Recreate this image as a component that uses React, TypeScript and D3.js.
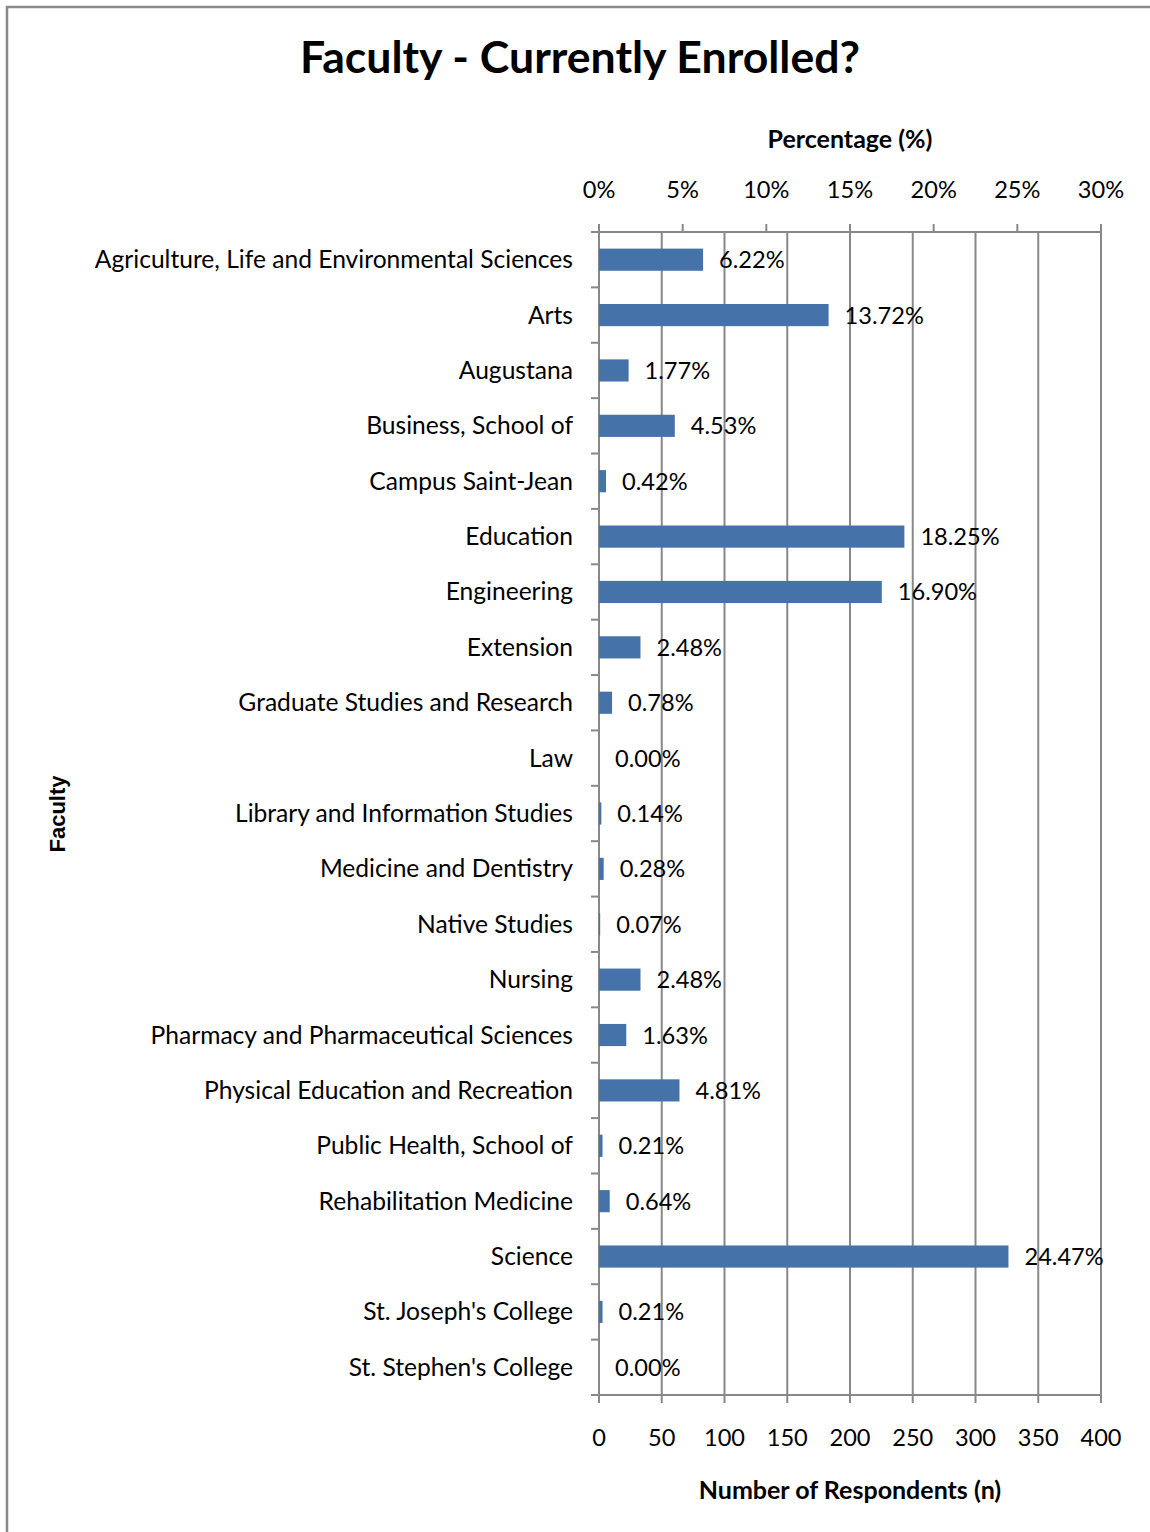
import React from "react";
import * as d3 from "d3";

const categories = [
  "Agriculture, Life and Environmental Sciences",
  "Arts",
  "Augustana",
  "Business, School of",
  "Campus Saint-Jean",
  "Education",
  "Engineering",
  "Extension",
  "Graduate Studies and Research",
  "Law",
  "Library and Information Studies",
  "Medicine and Dentistry",
  "Native Studies",
  "Nursing",
  "Pharmacy and Pharmaceutical Sciences",
  "Physical Education and Recreation",
  "Public Health, School of",
  "Rehabilitation Medicine",
  "Science",
  "St. Joseph's College",
  "St. Stephen's College",
];
const percentages = [
  6.22, 13.72, 1.77, 4.53, 0.42, 18.25, 16.9, 2.48, 0.78, 0.0, 0.14, 0.28, 0.07,
  2.48, 1.63, 4.81, 0.21, 0.64, 24.47, 0.21, 0.0,
];
const pctTicks = [0, 5, 10, 15, 20, 25, 30];
const countTicks = [0, 50, 100, 150, 200, 250, 300, 350, 400];

const W = 1150;
const H = 1532;
const FONT = "Lato, 'Open Sans', sans-serif";

export default function App() {
  const left = 599;
  const right = 1101;
  const top = 232;
  const bottom = 1395;
  const xPct = d3.scaleLinear().domain([0, 30]).range([left, right]);
  const xCnt = d3.scaleLinear().domain([0, 400]).range([left, right]);
  const y = d3
    .scaleBand<string>()
    .domain(categories)
    .range([top, bottom])
    .paddingInner(0.6)
    .paddingOuter(0.3);
  const band = (bottom - top) / categories.length;
  const axisColor = "#888888";

  return (
    <svg
      width={W}
      height={H}
      style={{ position: "absolute", left: 0, top: 0, background: "#fff" }}
    >
      <rect x={7} y={7} width={W + 10} height={H + 10} fill="#fff" stroke="#8a8a8a" strokeWidth={2.5} />
      <text x={580} y={73} textAnchor="middle" fontFamily={FONT} fontWeight="bold" fontSize={44.6} fill="#000">
        Faculty - Currently Enrolled?
      </text>
      <text x={850} y={148} textAnchor="middle" fontFamily={FONT} fontWeight="bold" fontSize={25}>
        Percentage (%)
      </text>
      <text x={850} y={1499} textAnchor="middle" fontFamily={FONT} fontWeight="bold" fontSize={25}>
        Number of Respondents (n)
      </text>
      <text
        transform="translate(65,814) rotate(-90)"
        textAnchor="middle"
        fontFamily="'Liberation Sans', Arial, sans-serif"
        fontWeight="bold"
        fontSize={22}
      >
        Faculty
      </text>

      {/* gridlines at count ticks */}
      {countTicks.slice(1).map((t) => (
        <line key={"g" + t} x1={xCnt(t)} x2={xCnt(t)} y1={top} y2={bottom} stroke={axisColor} strokeWidth={2} />
      ))}

      {/* top axis */}
      <line x1={left - 8} x2={right} y1={top} y2={top} stroke={axisColor} strokeWidth={2} />
      {pctTicks.map((t) => (
        <g key={"p" + t}>
          <line x1={xPct(t)} x2={xPct(t)} y1={top - 8} y2={top} stroke={axisColor} strokeWidth={2} />
          <text x={xPct(t)} y={198} textAnchor="middle" fontFamily={FONT} fontSize={23.6}>
            {t}%
          </text>
        </g>
      ))}

      {/* bottom axis */}
      <line x1={left - 8} x2={right} y1={bottom} y2={bottom} stroke={axisColor} strokeWidth={2} />
      {countTicks.map((t) => (
        <g key={"c" + t}>
          <line x1={xCnt(t)} x2={xCnt(t)} y1={bottom} y2={bottom + 8} stroke={axisColor} strokeWidth={2} />
          <text x={xCnt(t)} y={1446} textAnchor="middle" fontFamily={FONT} fontSize={23.6}>
            {t}
          </text>
        </g>
      ))}

      {/* left axis */}
      <line x1={left} x2={left} y1={top} y2={bottom + 8} stroke={axisColor} strokeWidth={2} />
      {d3.range(categories.length + 1).map((i) => (
        <line key={"lt" + i} x1={left - 8} x2={left} y1={top + i * band} y2={top + i * band} stroke={axisColor} strokeWidth={2} />
      ))}

      {categories.map((c, i) => {
        const yc = (y(c) as number) + y.bandwidth() / 2;
        const v = percentages[i];
        return (
          <g key={c}>
            <text x={573} y={yc + 8.5} textAnchor="end" fontFamily={FONT} fontSize={24.6}>
              {c}
            </text>
            <rect x={left} y={y(c) as number} width={xPct(v) - left} height={y.bandwidth()} fill="#4672AA" />
            <text x={xPct(v) + 16} y={yc + 8.5} fontFamily={FONT} fontSize={23.6}>
              {v.toFixed(2)}%
            </text>
          </g>
        );
      })}
    </svg>
  );
}
